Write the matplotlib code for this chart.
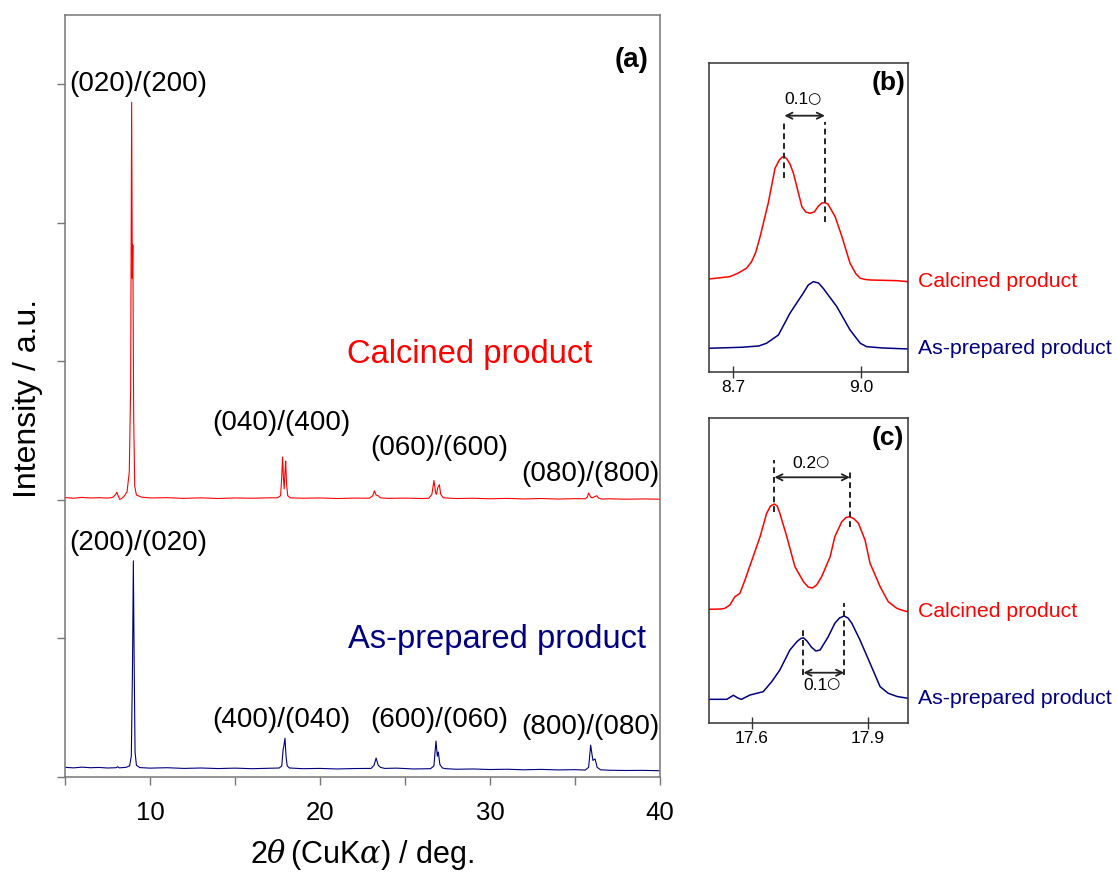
import matplotlib
matplotlib.use('Agg')
import matplotlib.pyplot as plt
import numpy as np

plt.rcParams['font.family'] = ['Liberation Sans', 'DejaVu Sans']
plt.rcParams['mathtext.fontset'] = 'dejavuserif'

# ---- panel (a): full patterns, 2theta vs intensity (offset) ----
calc_x = [5.0, 5.5, 6.0, 6.5, 7.0, 7.5, 7.8, 7.95, 8.05, 8.12, 8.22, 8.35, 8.5, 8.65, 8.78, 8.86,
          8.92, 8.96, 8.99, 9.04, 9.1, 9.2, 9.5, 10.0, 11.0, 12.0, 13.0, 14.0, 15.0, 16.0, 17.0,
          17.5, 17.68, 17.74, 17.80, 17.85, 17.89, 17.94, 17.98, 18.03, 18.1, 18.25, 19.0, 20.0,
          21.0, 22.0, 22.9, 23.1, 23.2, 23.3, 23.42, 23.55, 24.0, 25.0, 26.0, 26.4, 26.58, 26.7,
          26.8, 26.85, 26.93, 27.02, 27.1, 27.25, 28.0, 29.0, 30.0, 31.0, 32.0, 33.0, 34.0, 35.0,
          35.6, 35.72, 35.8, 35.92, 36.0, 36.1, 36.27, 36.4, 36.6, 37.0, 38.0, 39.0, 40.0]
calc_y = [2.017, 2.012, 2.018, 2.014, 2.016, 2.013, 2.018, 2.035, 2.055, 2.03, 2.004, 2.012, 2.03,
          2.06, 2.2, 2.8, 4.87, 3.6, 3.84, 2.6, 2.1, 2.035, 2.02, 2.014, 2.016, 2.011, 2.015, 2.01,
          2.014, 2.012, 2.015, 2.015, 2.03, 2.15, 2.31, 2.15, 2.08, 2.2, 2.28, 2.12, 2.03, 2.015,
          2.012, 2.014, 2.01, 2.013, 2.012, 2.03, 2.065, 2.035, 2.03, 2.015, 2.011, 2.013, 2.01,
          2.012, 2.04, 2.14, 2.05, 2.04, 2.09, 2.11, 2.04, 2.015, 2.01, 2.012, 2.008, 2.011, 2.007,
          2.01, 2.006, 2.009, 2.008, 2.02, 2.05, 2.02, 2.015, 2.02, 2.03, 2.012, 2.006, 2.008,
          2.005, 2.007, 2.005]

prep_x = [5.0, 5.5, 6.0, 6.5, 7.0, 7.5, 8.0, 8.1, 8.2, 8.6, 8.8, 8.9, 8.97, 9.02, 9.07, 9.12, 9.2,
          9.4, 10.0, 11.0, 12.0, 13.0, 14.0, 15.0, 16.0, 17.0, 17.6, 17.75, 17.83, 17.87, 17.94,
          18.0, 18.07, 18.2, 19.0, 20.0, 21.0, 22.0, 23.0, 23.18, 23.3, 23.42, 23.55, 23.8, 24.5,
          25.5, 26.5, 26.7, 26.82, 26.9, 26.96, 27.05, 27.2, 27.4, 28.0, 29.0, 30.0, 31.0, 32.0,
          33.0, 34.0, 35.0, 35.6, 35.8, 35.92, 36.05, 36.18, 36.3, 36.5, 37.0, 38.0, 39.0, 40.0]
prep_y = [0.07, 0.066, 0.071, 0.067, 0.069, 0.065, 0.067, 0.074, 0.066, 0.07, 0.08, 0.15, 0.8,
          1.56, 0.8, 0.18, 0.085, 0.068, 0.064, 0.067, 0.062, 0.065, 0.061, 0.064, 0.06, 0.063,
          0.065, 0.08, 0.2, 0.22, 0.28, 0.15, 0.08, 0.065, 0.06, 0.062, 0.058, 0.061, 0.062, 0.085,
          0.137, 0.085, 0.07, 0.062, 0.064, 0.058, 0.06, 0.08, 0.26, 0.15, 0.18, 0.09, 0.065, 0.06,
          0.056, 0.058, 0.054, 0.056, 0.052, 0.055, 0.051, 0.053, 0.05, 0.07, 0.23, 0.12, 0.13,
          0.07, 0.052, 0.049, 0.047, 0.048, 0.045]

# ---- panel (b): zoom near 8.8 deg ----
b_calc_x = [8.643, 8.692, 8.712, 8.731, 8.743, 8.753, 8.763, 8.782, 8.798, 8.808, 8.815, 8.820,
            8.826, 8.833, 8.841, 8.861, 8.870, 8.880, 8.890, 8.900, 8.908, 8.915, 8.922, 8.930,
            8.939, 8.955, 8.974, 8.988, 8.998, 9.010, 9.021, 9.084, 9.110]
b_calc_y = [0.93, 0.953, 0.99, 1.037, 1.103, 1.20, 1.353, 1.687, 2.037, 2.12, 2.15, 2.153,
            2.13, 2.08, 1.99, 1.653, 1.60, 1.587, 1.60, 1.66, 1.69, 1.693, 1.68, 1.62,
            1.553, 1.353, 1.087, 0.98, 0.937, 0.925, 0.92, 0.913, 0.903]
b_prep_x = [8.643, 8.720, 8.760, 8.778, 8.806, 8.833, 8.864, 8.876, 8.888, 8.900, 8.911, 8.943,
            8.974, 8.998, 9.013, 9.050, 9.110]
b_prep_y = [0.237, 0.247, 0.26, 0.287, 0.37, 0.587, 0.787, 0.87, 0.903, 0.89, 0.837, 0.653,
            0.42, 0.287, 0.253, 0.24, 0.23]

# ---- panel (c): zoom near 17.8 deg ----
c_calc_x = [17.489, 17.520, 17.530, 17.543, 17.556, 17.569, 17.582, 17.603, 17.621, 17.638,
            17.648, 17.658, 17.665, 17.672, 17.690, 17.711, 17.733, 17.745, 17.756, 17.767,
            17.780, 17.802, 17.814, 17.832, 17.843, 17.853, 17.864, 17.875, 17.892, 17.905,
            17.931, 17.952, 17.974, 17.990, 18.003]
c_calc_y = [1.137, 1.14, 1.147, 1.18, 1.263, 1.297, 1.43, 1.663, 1.863, 2.097, 2.17, 2.19,
            2.17, 2.097, 1.863, 1.563, 1.413, 1.36, 1.35, 1.38, 1.463, 1.663, 1.863, 2.013,
            2.055, 2.063, 2.04, 1.997, 1.83, 1.597, 1.363, 1.213, 1.147, 1.125, 1.113]
c_prep_x = [17.489, 17.535, 17.552, 17.565, 17.573, 17.595, 17.629, 17.651, 17.672, 17.698,
            17.716, 17.726, 17.733, 17.742, 17.754, 17.765, 17.776, 17.797, 17.814, 17.826,
            17.838, 17.848, 17.858, 17.879, 17.905, 17.931, 17.952, 17.975, 18.003]
c_prep_y = [0.237, 0.237, 0.277, 0.247, 0.237, 0.28, 0.313, 0.413, 0.53, 0.73, 0.813, 0.845,
            0.852, 0.82, 0.757, 0.72, 0.73, 0.863, 0.997, 1.05, 1.07, 1.05, 0.997, 0.83, 0.597,
            0.363, 0.297, 0.265, 0.247]

red = '#ff0000'
navy = '#000080'

fig = plt.figure(figsize=(11.17, 8.75), dpi=100)

# panel (a)
ax = fig.add_axes([0.0582, 0.112, 0.5327, 0.8709])
ax.plot(calc_x, calc_y, color=red, lw=0.8)
ax.plot(prep_x, prep_y, color=navy, lw=0.8)
ax.set_xlim(5, 40)
ax.set_ylim(0, 5.5)
ax.set_xticks([5, 10, 15, 20, 25, 30, 35, 40])
ax.set_xticklabels(['', '10', '', '20', '', '30', '', '40'], fontsize=18.5)
ax.set_yticks([0, 1, 2, 3, 4, 5])
ax.set_yticklabels([])
ax.tick_params(direction='out', length=6, width=1, color='#777777', pad=11)
for s in ax.spines.values():
    s.set_color('#777777')
    s.set_linewidth(1.1)
fig.text(362 / 1117, 1 - 855 / 875, r'2$\theta\,$(CuK$\alpha$) / deg.', fontsize=22,
         ha='center', va='center')
fig.text(28 / 1117, 1 - 398 / 875, 'Intensity / a.u.', fontsize=23, rotation=90,
         ha='center', va='center')

hkl = 20
ax.text(5.24, 5.0, '(020)/(200)', fontsize=hkl, va='center')
ax.text(13.65, 2.556, '(040)/(400)', fontsize=hkl, va='center')
ax.text(22.94, 2.375, '(060)/(600)', fontsize=hkl, va='center')
ax.text(31.82, 2.19, '(080)/(800)', fontsize=hkl, va='center')
ax.text(5.24, 1.69, '(200)/(020)', fontsize=hkl, va='center')
ax.text(13.65, 0.41, '(400)/(040)', fontsize=hkl, va='center')
ax.text(22.94, 0.41, '(600)/(060)', fontsize=hkl, va='center')
ax.text(31.82, 0.36, '(800)/(080)', fontsize=hkl, va='center')
ax.text(21.6, 3.05, 'Calcined product', fontsize=23.5, color=red, va='center')
ax.text(21.65, 0.99, 'As-prepared product', fontsize=23.5, color=navy, va='center')
ax.text(0.98, 0.941, '(a)', fontsize=20, fontweight='bold', ha='right', va='center',
        transform=ax.transAxes)


def inset(rect, xs1, ys1, xs2, ys2, xlim, ylim, ticks, ticklabels, tag):
    a = fig.add_axes(rect)
    a.plot(xs1, ys1, color=red, lw=1.1)
    a.plot(xs2, ys2, color=navy, lw=1.1)
    a.set_xlim(*xlim)
    a.set_ylim(*ylim)
    a.set_xticks(ticks)
    a.set_xticklabels(ticklabels, fontsize=12.5)
    a.set_yticks([])
    a.tick_params(direction='inout', length=8, width=1, color='#333333', pad=2)
    for s in a.spines.values():
        s.set_color('#333333')
        s.set_linewidth(1.1)
    a.text(0.9, 0.935, tag, fontsize=19, fontweight='bold', ha='center', va='center',
           transform=a.transAxes)
    # series labels to the right of the box
    a.text(1.05, (ys1[-1]) / ylim[1], 'Calcined product', fontsize=15.3, color=red,
           va='center', transform=a.transAxes)
    a.text(1.05, (ys2[-1]) / ylim[1], 'As-prepared product', fontsize=15.3, color=navy,
           va='center', transform=a.transAxes)
    return a


def spacing(a, x1, x2, y_arrow, top1, bot1, top2, bot2, label, y_text):
    a.plot([x1, x1], [bot1, top1], color='#222222', lw=1.4, ls=(0, (3, 2)))
    a.plot([x2, x2], [bot2, top2], color='#222222', lw=1.4, ls=(0, (3, 2)))
    a.annotate('', xy=(x1, y_arrow), xytext=(x2, y_arrow),
               arrowprops=dict(arrowstyle='<->', color='#222222', lw=1.3,
                               shrinkA=0, shrinkB=0, mutation_scale=11))
    xm = (x1 + x2) / 2
    a.annotate(label, xy=(xm, y_text), xytext=(3, 0), textcoords='offset points',
               fontsize=12.5, ha='right', va='center')
    a.annotate('\u25cb', xy=(xm, y_text), xytext=(2.0, 1.0), textcoords='offset points',
               fontsize=11, ha='left', va='center', family=['DejaVu Sans'])


ab = inset([0.6347, 0.5749, 0.1782, 0.3531], b_calc_x, b_calc_y, b_prep_x, b_prep_y,
           (8.643, 9.110), (0, 3.09), [8.7, 9.0], ['8.7', '9.0'], '(b)')
spacing(ab, 8.820, 8.915, 2.563, 2.503, 1.937, 2.503, 1.503, '0.1', 2.72)

ac = inset([0.6347, 0.1737, 0.1782, 0.3486], c_calc_x, c_calc_y, c_prep_x, c_prep_y,
           (17.489, 18.003), (0, 3.05), [17.6, 17.9], ['17.6', '17.9'], '(c)')
spacing(ac, 17.658, 17.853, 2.457, 2.63, 2.113, 2.513, 1.963, '0.2', 2.597)
spacing(ac, 17.733, 17.838, 0.503, 0.947, 0.48, 1.197, 0.48, '0.1', 0.38)

fig.savefig('out.png', dpi=100)
